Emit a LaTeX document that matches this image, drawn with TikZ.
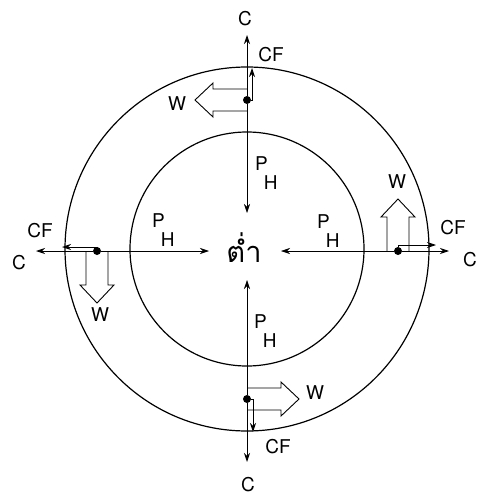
\documentclass[tikz,border=0pt]{standalone}
\usepackage{fontspec}
\setsansfont{TeX Gyre Heros}
\newfontfamily\thaifont[Script=Thai]{Loma}
\usetikzlibrary{arrows.meta}

\tikzset{
    ring/.style={line width=1.2pt},
    axis/.style={line width=0.9pt},
    thinline/.style={line width=0.6pt},
    arr/.style={-{Stealth[length=9pt,width=6pt]}},
    dot/.style={circle, fill, inner sep=0pt, minimum size=8pt},
    warrow/.style={line width=0.9pt, line join=miter},
    lbl/.style={font=\sffamily\fontsize{19}{21}\selectfont, inner sep=0pt},
}
\newcommand{\PH}{P\kern-4pt\raisebox{-19pt}{H}}

\begin{document}
\begin{tikzpicture}[x=1pt, y=-1pt]
        \useasboundingbox (0,0) rectangle (480,500);

        % Rings
        \draw[ring] (247,249) circle (182pt);
        \draw[ring] (247,249) circle (117pt);
        \node[font=\thaifont\fontsize{29}{31}\selectfont, inner sep=0pt, anchor=base] (low) at (244,262) {ต่ำ};

        % Top element
        \begin{scope}
            \node[dot] (mN) at (247,100) {};
            \coordinate (cN) at (247,35);
            \coordinate (fN) at (252,68);
            \coordinate (pN) at (247,213);
            \node[lbl] (tcN) at (245,19) {C};
            \node[lbl] (tfN) at (271,55) {CF};
            \node[lbl] (twN) at (177,104) {W};
            \node[lbl, anchor=base west] (tpN) at (255,170) {\PH};
            % Arrows
            \draw[axis, arr] (mN) -- (cN);
            \draw[axis, arr] (mN) -| (fN);
            \draw[thinline, arr] (mN) -- (pN);
        \end{scope}
        \begin{scope}[shift={(mN.center)}, rotate=180]
            \draw[warrow] (0,-11) -- (34,-11) -- (34,-17) -- (52,0) -- (34,17) -- (34,11) -- (0,11);
        \end{scope}

        % Left element
        \begin{scope}
            \node[dot] (mW) at (97,251) {};
            \coordinate (cW) at (36,251);
            \coordinate (fW) at (62,247);
            \coordinate (pW) at (209,251);
            \node[lbl] (tcW) at (19,263) {C};
            \node[lbl] (tfW) at (40,231) {CF};
            \node[lbl] (twW) at (100,315) {W};
            \node[lbl, anchor=base west] (tpW) at (152,227) {\PH};
            % Arrows
            \draw[axis, arr] (mW) -- (cW);
            \draw[axis, arr] (mW) |- (fW);
            \draw[thinline, arr] (mW) -- (pW);
        \end{scope}
        \begin{scope}[shift={(mW.center)}, rotate=270]
            \draw[warrow] (0,-11) -- (34,-11) -- (34,-17) -- (52,0) -- (34,17) -- (34,11) -- (0,11);
        \end{scope}

        % Bottom element
        \begin{scope}
            \node[dot] (mS) at (247,399) {};
            \coordinate (cS) at (247,462);
            \coordinate (fS) at (253,432);
            \coordinate (pS) at (247,280);
            \node[lbl] (tcS) at (248,485) {C};
            \node[lbl] (tfS) at (278,447) {CF};
            \node[lbl] (twS) at (315,393) {W};
            \node[lbl, anchor=base west] (tpS) at (254,328) {\PH};
            % Arrows
            \draw[axis, arr] (mS) -- (cS);
            \draw[axis, arr] (mS) -| (fS);
            \draw[thinline, arr] (mS) -- (pS);
        \end{scope}
        \begin{scope}[shift={(mS.center)}]
            \draw[warrow] (0,-11) -- (34,-11) -- (34,-17) -- (52,0) -- (34,17) -- (34,11) -- (0,11);
        \end{scope}

        % Right element
        \begin{scope}
            \node[dot] (mE) at (398,251) {};
            \coordinate (cE) at (449,251);
            \coordinate (fE) at (436,245);
            \coordinate (pE) at (281,251);
            \node[lbl] (tcE) at (470,260) {C};
            \node[lbl] (tfE) at (453,228) {CF};
            \node[lbl] (twE) at (397,182) {W};
            \node[lbl, anchor=base west] (tpE) at (317,228) {\PH};
            % Arrows
            \draw[axis, arr] (mE) -- (cE);
            \draw[axis, arr] (mE) |- (fE);
            \draw[thinline, arr] (mE) -- (pE);
        \end{scope}
        \begin{scope}[shift={(mE.center)}, rotate=90]
            \draw[warrow] (0,-11) -- (34,-11) -- (34,-17) -- (52,0) -- (34,17) -- (34,11) -- (0,11);
        \end{scope}
    \end{tikzpicture}
\end{document}
